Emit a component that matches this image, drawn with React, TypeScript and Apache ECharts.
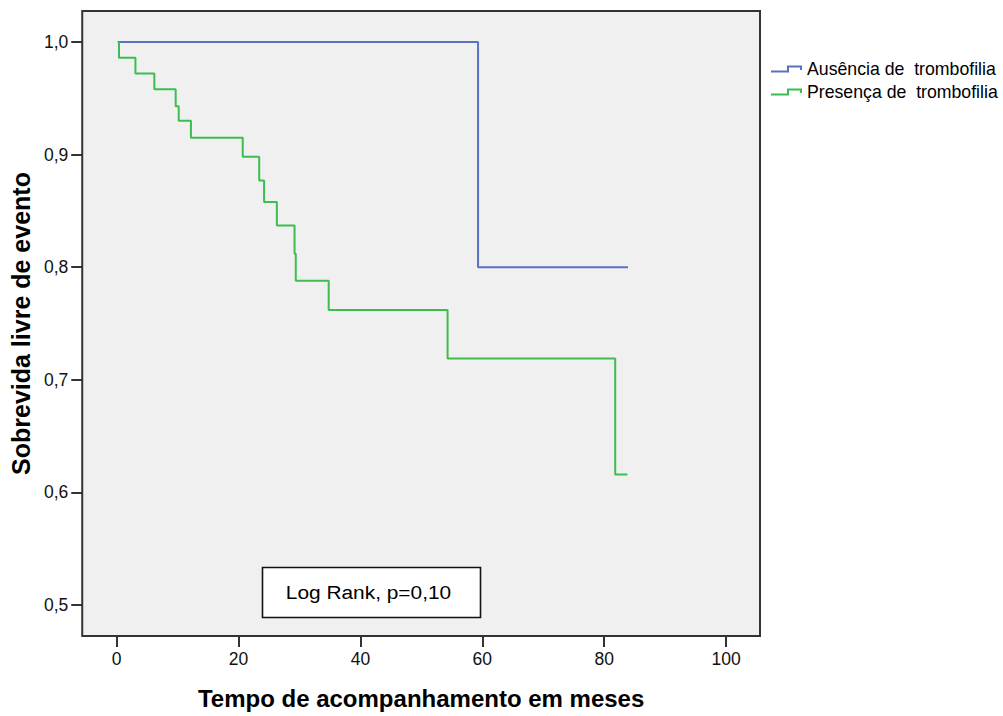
import React, { useEffect, useRef } from "react";
import * as echarts from "echarts";

// Kaplan–Meier curves (event times in months, survival after each event)
const seriesNames = ["Ausência de  trombofilia", "Presença de  trombofilia"];

const absStart = 0.2;
const absTimes = [59.3];
const absSurv = [0.8];
const absEnd = 83.9;

const presStart = 0.2;
const presTimes = [0.4, 3.1, 6.2, 9.7, 10.2, 12.2, 20.7, 23.4, 24.2, 26.3, 29.2, 29.4, 34.8, 54.3, 81.8];
const presSurv = [0.986, 0.972, 0.958, 0.943, 0.93, 0.915, 0.898, 0.877, 0.858, 0.837, 0.812, 0.788, 0.762, 0.719, 0.616];
const presEnd = 83.8;

const xTicks = [0, 20, 40, 60, 80, 100];
const yTicks = [0.5, 0.6, 0.7, 0.8, 0.9, 1.0];

const xTitle = "Tempo de acompanhamento em meses";
const yTitle = "Sobrevida livre de evento";
const annotation = "Log Rank, p=0,10";

function kmSteps(start: number, times: number[], surv: number[], end: number) {
  const pts: number[][] = [[start, 1]];
  let prev = 1;
  for (let i = 0; i < times.length; i++) {
    pts.push([times[i], prev]);
    pts.push([times[i], surv[i]]);
    prev = surv[i];
  }
  pts.push([end, prev]);
  return pts;
}

const iconPath = "path://M0,5 L16,5 L16,0 L31,0 L31,4.5 L29,4.5 L29,2 L18,2 L18,7 L0,7 Z";

export default function App() {
  const ref = useRef<HTMLDivElement>(null);
  useEffect(() => {
    if (!ref.current) return;
    const chart = echarts.init(ref.current, undefined, { renderer: "svg" });
    const font = "Arial, 'Liberation Sans', sans-serif";
    chart.setOption({
      animation: false,
      backgroundColor: "#ffffff",
      textStyle: { fontFamily: font },
      grid: {
        left: 79,
        top: 11,
        width: 681,
        height: 625,
        show: true,
        backgroundColor: "#f0f0f0",
        borderColor: "#333333",
        borderWidth: 2,
        containLabel: false,
      },
      legend: {
        orient: "vertical",
        left: 766,
        top: 55,
        itemWidth: 31,
        itemHeight: 7,
        itemGap: 5,
        icon: iconPath,
        textStyle: { fontSize: 17.7, color: "#000", fontFamily: font },
        data: seriesNames,
        selectedMode: false,
      },
      xAxis: {
        type: "value",
        min: -5.63,
        max: 105.55,
        splitLine: { show: false },
        axisLine: { show: false, onZero: false },
        axisTick: { show: true, length: 11, inside: false, lineStyle: { color: "#333", width: 2 }, customValues: xTicks },
        axisLabel: { show: true, margin: 14, fontSize: 17.5, color: "#111", fontFamily: font, customValues: xTicks, formatter: (v: number) => String(v) },
        name: xTitle,
        nameLocation: "middle",
        nameGap: 50,
        nameTextStyle: { fontSize: 24, fontWeight: "bold", color: "#000", fontFamily: font },
      },
      yAxis: {
        type: "value",
        min: 0.4725,
        max: 1.0275,
        splitLine: { show: false },
        axisLine: { show: false, onZero: false },
        axisTick: { show: true, length: 11, inside: false, lineStyle: { color: "#333", width: 2 }, customValues: yTicks },
        axisLabel: {
          show: true,
          margin: 14,
          fontSize: 17.5,
          color: "#111",
          fontFamily: font,
          customValues: yTicks,
          formatter: (v: number) => v.toFixed(1).replace(".", ","),
        },
        name: yTitle,
        nameLocation: "middle",
        nameGap: 46,
        nameTextStyle: { fontSize: 25, fontWeight: "bold", color: "#000", fontFamily: font },
      },
      series: [
        {
          name: seriesNames[0],
          type: "line",
          data: kmSteps(absStart, absTimes, absSurv, absEnd),
          showSymbol: false,
          symbol: "none",
          color: "#5a70c0",
          lineStyle: { color: "#5a70c0", width: 2 },
          itemStyle: { color: "#5a70c0" },
        },
        {
          name: seriesNames[1],
          type: "line",
          data: kmSteps(presStart, presTimes, presSurv, presEnd),
          showSymbol: false,
          symbol: "none",
          color: "#3dbd4f",
          lineStyle: { color: "#3dbd4f", width: 2 },
          itemStyle: { color: "#3dbd4f" },
        },
      ],
      graphic: [
        {
          type: "rect",
          shape: { x: 262.5, y: 567.5, width: 218, height: 50 },
          style: { fill: "#ffffff", stroke: "#111111", lineWidth: 1.6 },
          z: 10,
        },
        {
          type: "text",
          x: 368.5,
          y: 592.5,
          scaleX: 1.16,
          style: {
            text: annotation,
            fontSize: 18,
            fontFamily: font,
            fill: "#000",
            align: "center",
            verticalAlign: "middle",
          },
          z: 11,
        },
      ],
    });
    return () => chart.dispose();
  }, []);
  return (
    <div
      ref={ref}
      style={{ position: "fixed", left: 0, top: 0, width: 1003, height: 716 }}
    />
  );
}
